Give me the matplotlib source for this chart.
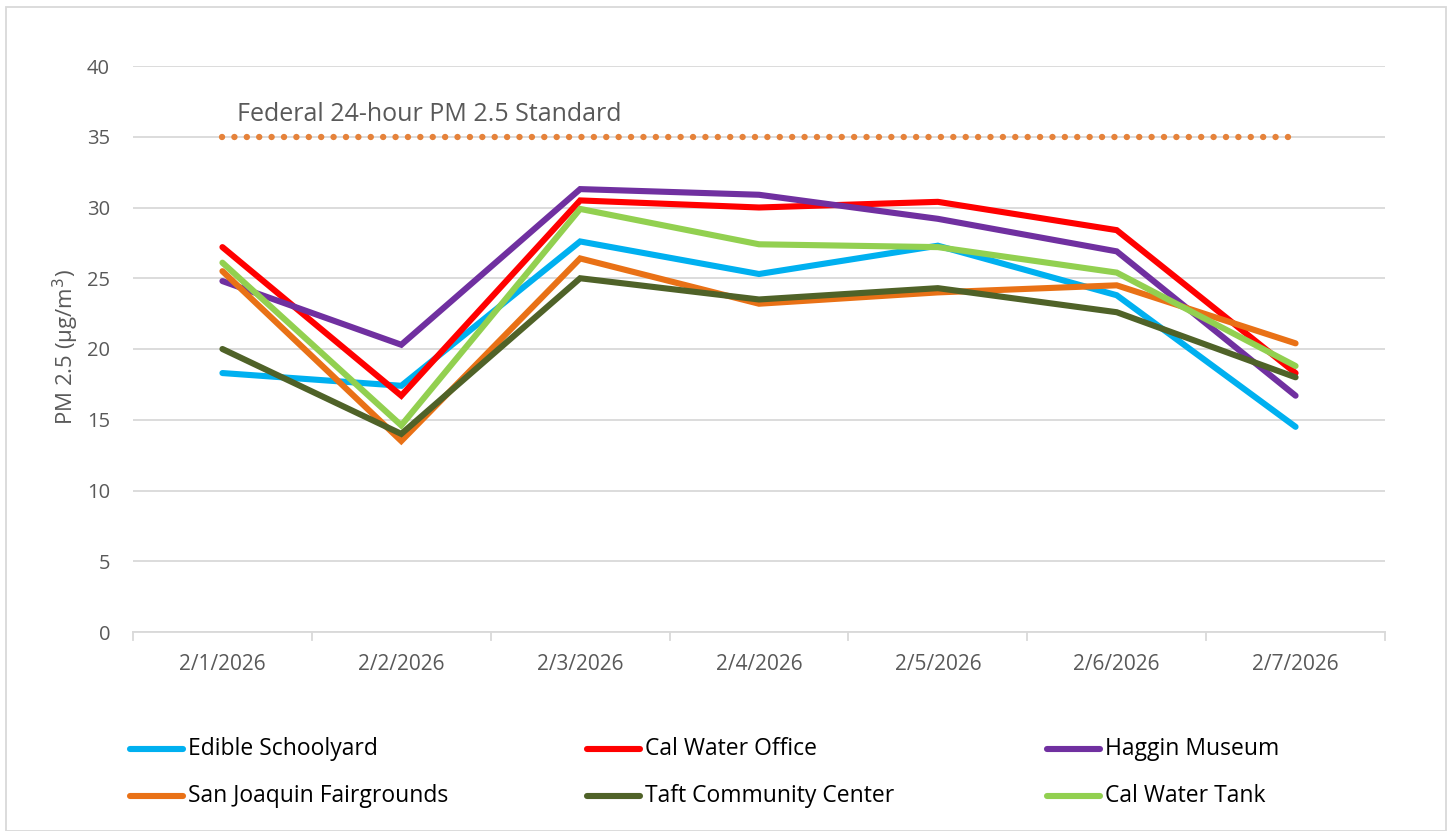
import matplotlib
matplotlib.use("Agg")
import matplotlib.pyplot as plt
from matplotlib.patches import Rectangle
from matplotlib.lines import Line2D

dates = ["2/1/2026", "2/2/2026", "2/3/2026", "2/4/2026", "2/5/2026", "2/6/2026", "2/7/2026"]
edible = [18.3, 17.4, 27.6, 25.3, 27.3, 23.8, 14.5]
cal_office = [27.2, 16.7, 30.5, 30.0, 30.4, 28.4, 18.3]
haggin = [24.8, 20.3, 31.3, 30.9, 29.2, 26.9, 16.7]
fairgrounds = [25.5, 13.5, 26.4, 23.2, 24.0, 24.5, 20.4]
taft = [20.0, 14.0, 25.0, 23.5, 24.3, 22.6, 18.0]
cal_tank = [26.1, 14.6, 29.9, 27.4, 27.2, 25.4, 18.8]
standard = [35] * 7

series = [
    ("Edible Schoolyard", edible, "#00B0F0"),
    ("Cal Water Office", cal_office, "#FF0000"),
    ("Haggin Museum", haggin, "#7030A0"),
    ("San Joaquin Fairgrounds", fairgrounds, "#E97116"),
    ("Taft Community Center", taft, "#4F6228"),
    ("Cal Water Tank", cal_tank, "#92D050"),
]

plt.rcParams['font.family'] = ['Open Sans', 'DejaVu Sans']

fig = plt.figure(figsize=(14.52, 8.31), dpi=100)
ax = fig.add_axes([133/1452, 1-632/831, (1385-133)/1452, (632-66)/831])

x = list(range(len(dates)))
ax.plot(x, standard, color="#E5823A", linewidth=4.6, linestyle=(0, (0.01, 1.93)),
        dash_capstyle='round', solid_capstyle='round', zorder=2)
ax.text(0.08, 36.1, "Federal 24-hour PM 2.5 Standard", fontsize=18, color="#595959",
        ha="left", va="baseline")

for name, vals, col in series:
    ax.plot(x, vals, color=col, linewidth=4.4, solid_capstyle='round',
            solid_joinstyle='miter', label=name, zorder=3)

ax.set_xlim(-0.5, 6.5)
ax.set_ylim(0, 40)
ax.set_yticks(range(0, 41, 5))
ax.yaxis.grid(True, color="#D9D9D9", linewidth=1.3)
ax.set_axisbelow(True)
ax.tick_params(axis='y', length=0, labelsize=14.5, labelcolor="#595959", pad=16.5)
ax.set_xticks(x)
ax.set_xticklabels(dates)
ax.tick_params(axis='x', length=0, labelsize=15, labelcolor="#595959", pad=16)
for b in [i - 0.5 for i in range(8)]:
    ax.plot([b, b], [0, -0.55], color="#D9D9D9", linewidth=1.3, clip_on=False)
for s in ["top", "right", "left"]:
    ax.spines[s].set_visible(False)
ax.spines["bottom"].set_color("#D9D9D9")
ax.spines["bottom"].set_linewidth(1.3)

fig.text(66/1452, 1-347/831, "PM 2.5 (µg/m$^3$)", fontsize=16, color="#595959",
         rotation=90, ha="center", va="center")

# legend
leg_cols = [130, 587, 1047]
leg_rows = [749, 796]
for i, (name, vals, col) in enumerate(series):
    cx = leg_cols[i % 3]
    cy = leg_rows[i // 3]
    fx0 = cx / 1452
    fx1 = (cx + 53) / 1452
    fy = 1 - cy / 831
    fig.add_artist(Line2D([fx0, fx1], [fy, fy], color=col, linewidth=4.4,
                          solid_capstyle='round', transform=fig.transFigure))
    fig.text((cx + 58) / 1452, fy, name, fontsize=16.5, color="black",
             ha="left", va="center")

fig.add_artist(Rectangle((6/1452, 0.5/831), 1440/1452, 824/831, transform=fig.transFigure,
                         fill=False, edgecolor="#D9D9D9", linewidth=1.3))

fig.savefig("out.png", dpi=100, facecolor="white")
